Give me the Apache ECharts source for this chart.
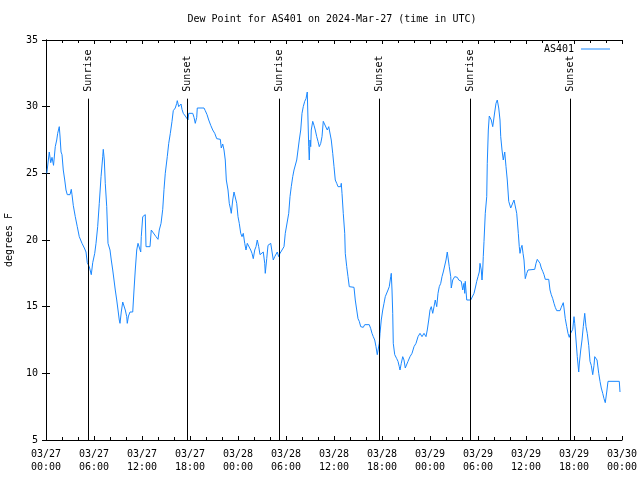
<!DOCTYPE html>
<html>
<head>
<meta charset="utf-8">
<script src="https://cdn.jsdelivr.net/npm/echarts@6/dist/echarts.min.js"></script>
<style>html,body{margin:0;padding:0;background:#fff}#c{width:640px;height:480px}</style>
</head>
<body>
<div id="c"></div>
<script>
// hours since 2024-03-27 00:00 UTC
var hours = [0.1,0.41,0.59,0.75,0.94,1.16,1.34,1.46,1.66,1.75,1.88,2.0,2.16,2.34,2.5,2.66,3.0,3.16,3.25,3.41,3.66,3.91,4.16,4.5,4.79,5.0,5.16,5.41,5.66,5.84,6.09,6.25,6.46,6.66,6.88,7.09,7.16,7.29,7.41,7.59,7.75,8.0,8.16,8.34,8.5,8.66,8.84,9.0,9.16,9.25,9.41,9.59,9.75,9.91,10.09,10.16,10.31,10.5,10.84,11.0,11.16,11.34,11.5,11.66,11.84,11.91,12.09,12.41,12.5,13.0,13.16,13.41,13.75,14.0,14.16,14.38,14.59,14.75,14.91,15.16,15.34,15.54,15.75,15.91,16.16,16.34,16.41,16.59,16.75,16.88,17.0,17.16,17.41,17.59,17.75,17.84,18.34,18.5,18.66,18.84,18.91,19.75,19.91,20.13,20.34,20.59,20.84,21.09,21.34,21.79,21.91,22.09,22.25,22.41,22.54,22.75,22.91,23.09,23.16,23.34,23.5,23.75,23.84,24.0,24.16,24.34,24.5,24.66,24.84,25.0,25.16,25.34,25.59,25.75,25.91,26.09,26.25,26.41,26.59,26.75,27.0,27.16,27.34,27.41,27.59,27.75,27.91,28.09,28.25,28.41,28.59,28.91,29.09,29.25,29.5,29.75,29.91,30.16,30.34,30.5,30.66,30.84,31.0,31.16,31.34,31.5,31.66,31.84,32.0,32.16,32.34,32.5,32.66,32.75,32.84,32.91,33.0,33.09,33.16,33.34,33.5,33.66,33.84,34.0,34.16,34.34,34.5,34.66,34.91,35.16,35.34,35.5,35.66,35.84,36.0,36.16,36.34,36.5,36.66,36.84,36.91,37.0,37.16,37.34,37.41,37.59,37.75,37.91,38.5,38.66,38.84,39.0,39.16,39.34,39.66,39.84,40.41,40.59,40.75,40.91,41.09,41.25,41.41,41.54,41.66,41.75,41.91,42.09,42.25,42.41,42.59,42.75,42.91,43.09,43.16,43.25,43.34,43.41,43.59,43.84,44.0,44.16,44.25,44.41,44.59,44.75,44.91,45.09,45.25,45.5,45.75,46.0,46.25,46.5,46.75,47.0,47.25,47.5,47.66,47.84,48.0,48.16,48.34,48.5,48.66,48.84,49.0,49.16,49.34,49.5,49.66,49.84,50.0,50.16,50.34,50.41,50.59,50.66,50.84,51.09,51.25,51.41,51.59,51.75,51.91,52.09,52.25,52.34,52.41,52.59,53.09,53.34,53.5,53.66,53.84,54.0,54.16,54.25,54.41,54.5,54.59,54.66,54.75,54.91,55.09,55.16,55.29,55.41,55.5,55.66,55.84,55.91,56.09,56.25,56.41,56.59,56.75,56.84,57.0,57.16,57.34,57.5,57.66,57.84,58.09,58.34,58.5,58.66,58.84,59.04,59.16,59.25,59.38,59.5,59.63,59.75,59.91,60.09,60.25,60.5,61.09,61.25,61.41,61.59,61.75,61.91,62.09,62.25,62.41,62.84,63.0,63.16,63.34,63.5,63.66,63.84,64.25,64.41,64.59,64.66,64.75,64.91,65.09,65.25,65.41,65.5,65.66,65.84,66.0,66.09,66.25,66.41,66.59,66.66,66.84,67.0,67.16,67.34,67.5,67.66,67.84,68.0,68.16,68.34,68.5,68.59,68.75,68.88,69.0,69.09,69.25,69.41,69.59,69.75,69.91,70.09,70.25,71.66,71.75];
var dewPoint = [25.0,26.6,25.8,26.2,25.6,27.0,27.5,28.0,28.5,27.8,26.6,26.4,25.25,24.5,23.75,23.4,23.4,23.8,23.4,22.6,21.75,21.0,20.25,19.75,19.4,19.1,18.3,18.0,17.4,18.3,19.0,19.75,21.0,22.75,24.75,26.25,26.8,26.0,24.25,22.5,19.75,19.25,18.5,17.75,17.0,16.25,15.5,14.75,14.0,13.75,14.6,15.35,15.25,14.75,14.25,13.75,14.3,14.6,14.6,16.25,17.75,19.25,19.75,19.9,19.1,20.25,21.75,21.9,19.5,19.5,20.75,20.6,20.25,20.05,20.75,21.25,22.3,23.8,25.0,26.25,27.25,28.0,28.9,29.7,29.9,30.25,30.45,30.0,29.95,30.2,29.8,29.5,29.3,29.2,29.0,29.5,29.5,29.2,28.75,29.2,29.9,29.9,29.7,29.4,29.0,28.6,28.25,28.0,27.6,27.55,26.9,27.2,26.75,26.0,24.5,23.75,22.75,22.25,22.0,23.0,23.6,23.75,22.75,21.75,21.25,20.5,20.25,20.5,19.75,19.25,19.75,19.9,19.25,19.0,18.6,19.25,19.5,20.0,19.5,18.9,19.0,19.1,18.25,17.5,18.6,19.6,19.5,19.75,19.75,18.5,18.75,19.1,18.75,19.0,19.05,19.5,20.5,20.5,22.0,23.25,24.0,24.75,25.25,25.4,26.0,26.75,27.5,28.25,29.5,30.0,30.4,30.6,31.1,29.0,27.0,26.0,27.5,27.0,28.25,28.9,28.6,28.25,27.75,27.4,27.0,27.25,27.75,28.9,28.75,28.25,28.5,28.6,27.5,26.5,25.5,24.5,24.25,24.0,23.9,24.0,24.25,23.5,22.0,20.5,19.0,18.0,17.25,16.5,16.45,15.5,14.75,14.1,13.9,13.5,13.45,13.65,13.65,13.35,13.0,12.75,12.5,12.0,11.4,11.3,12.25,13.0,14.0,14.75,15.25,15.75,15.9,16.25,16.5,17.25,17.5,16.25,14.5,12.25,11.4,11.1,10.9,10.5,10.25,10.75,11.25,11.0,10.4,10.5,10.9,11.25,11.5,12.0,12.25,12.75,13.0,12.75,13.0,12.75,13.25,14.0,14.75,15.0,14.5,15.0,15.5,15.0,16.0,16.5,16.75,17.25,17.6,17.5,18.5,19.1,19.1,18.0,17.25,16.4,17.0,17.25,17.4,17.2,17.0,16.9,16.9,16.25,16.75,16.0,16.9,15.5,15.5,15.6,16.0,16.4,16.9,17.25,17.6,18.25,17.75,17.0,17.75,18.75,19.9,22.0,23.25,25.75,28.25,29.3,29.4,29.0,28.5,28.6,29.6,30.25,30.5,29.9,29.0,27.75,26.75,26.0,26.6,25.5,24.5,22.9,22.4,22.4,23.0,23.15,22.0,20.5,19.5,19.0,19.4,19.6,19.0,18.5,17.1,17.5,17.75,17.8,17.8,18.25,18.55,18.6,18.25,17.9,17.65,17.4,17.05,17.05,16.25,15.9,15.6,15.25,14.95,14.7,14.7,14.95,15.1,15.3,14.9,14.1,13.5,13.0,12.7,12.9,13.1,13.3,14.25,13.75,12.5,11.25,10.1,10.7,11.75,12.5,13.5,14.5,13.5,13.0,12.1,10.9,10.6,9.9,10.6,11.25,11.4,11.0,10.9,10.0,9.4,8.9,8.5,8.1,7.8,8.6,9.4,9.4,8.6];
var xTickLabels = ['03/27\n00:00','03/27\n06:00','03/27\n12:00','03/27\n18:00','03/28\n00:00','03/28\n06:00','03/28\n12:00','03/28\n18:00','03/29\n00:00','03/29\n06:00','03/29\n12:00','03/29\n18:00','03/30\n00:00'];
var sunHours = [5.29, 17.66, 29.16, 41.66, 53.04, 65.54];
var sunLabels = ['Sunrise','Sunset','Sunrise','Sunset','Sunrise','Sunset'];
var sunLineTop = 30.6;

var FONT = 'DejaVu Sans Mono';
var seriesData = hours.map(function (h, i) { return [h, dewPoint[i]]; });
var markData = [];
sunHours.forEach(function (h, i) {
  markData.push([{coord: [h, 5]}, {coord: [h, sunLineTop]}]);
  markData.push([
    {coord: [h, sunLineTop], name: sunLabels[i],
     lineStyle: {color: 'rgba(0,0,0,0)', width: 0},
     label: {show: true, formatter: '{b}', position: 'insideStart', distance: 7,
             color: '#000', fontFamily: FONT, fontSize: 10}},
    {coord: [h, 35]}
  ]);
});

var chart = echarts.init(document.getElementById('c'), null, {renderer: 'canvas'});
var axisCommon = {
  axisLine: {show: true, lineStyle: {color: '#000', width: 1}},
  splitLine: {show: false}
};
chart.setOption({
  animation: false,
  backgroundColor: '#fff',
  title: {
    text: 'Dew Point for AS401 on 2024-Mar-27 (time in UTC)',
    left: 332, top: 14, textAlign: 'center', padding: 0,
    textStyle: {fontFamily: FONT, fontSize: 10, fontWeight: 'normal', color: '#000'}
  },
  legend: {
    right: 30, top: 44, padding: 0, align: 'right',
    icon: 'rect', itemWidth: 29, itemHeight: 1, itemGap: 0,
    textStyle: {fontFamily: FONT, fontSize: 10, color: '#000', padding: [0, 2, 0, 0]},
    data: ['AS401']
  },
  grid: {left: 46, right: 18, top: 40, bottom: 40, containLabel: false, outerBoundsMode: 'none'},
  xAxis: [
    Object.assign({
      type: 'value', position: 'bottom', min: 0, max: 72, interval: 6,
      axisTick: {show: true, inside: true, length: 4, lineStyle: {color: '#000'}},
      minorTick: {show: true, splitNumber: 3, length: 3, lineStyle: {color: '#000'}},
      axisLabel: {show: true, margin: 8, fontFamily: FONT, fontSize: 10, color: '#000', lineHeight: 13,
        formatter: function (v) { return xTickLabels[Math.round(v / 6)]; }}
    }, axisCommon),
    Object.assign({
      type: 'value', position: 'top', min: 0, max: 72, interval: 6,
      axisTick: {show: true, inside: true, length: 4, lineStyle: {color: '#000'}},
      minorTick: {show: true, splitNumber: 3, length: 3, lineStyle: {color: '#000'}},
      axisLabel: {show: false}
    }, axisCommon)
  ],
  yAxis: [
    Object.assign({
      type: 'value', position: 'left', min: 5, max: 35, interval: 5,
      name: 'degrees F', nameLocation: 'middle', nameGap: 32,
      nameTextStyle: {fontFamily: FONT, fontSize: 10, color: '#000'},
      axisTick: {show: true, inside: true, length: 4, lineStyle: {color: '#000'}},
      axisLabel: {show: true, margin: 8, fontFamily: FONT, fontSize: 10, color: '#000'}
    }, axisCommon),
    Object.assign({
      type: 'value', position: 'right', min: 5, max: 35, interval: 5,
      axisTick: {show: true, inside: true, length: 4, lineStyle: {color: '#000'}},
      axisLabel: {show: false}
    }, axisCommon)
  ],
  series: [{
    name: 'AS401', type: 'line', xAxisIndex: 0, yAxisIndex: 0,
    data: seriesData, showSymbol: false, symbol: 'none',
    lineStyle: {color: '#1a88ff', width: 1},
    itemStyle: {color: '#1a88ff'},
    markLine: {
      silent: true, symbol: ['none', 'none'], animation: false,
      lineStyle: {color: '#000', width: 1, type: 'solid'},
      label: {show: false},
      emphasis: {disabled: true},
      data: markData
    }
  }]
});
</script>
</body>
</html>
